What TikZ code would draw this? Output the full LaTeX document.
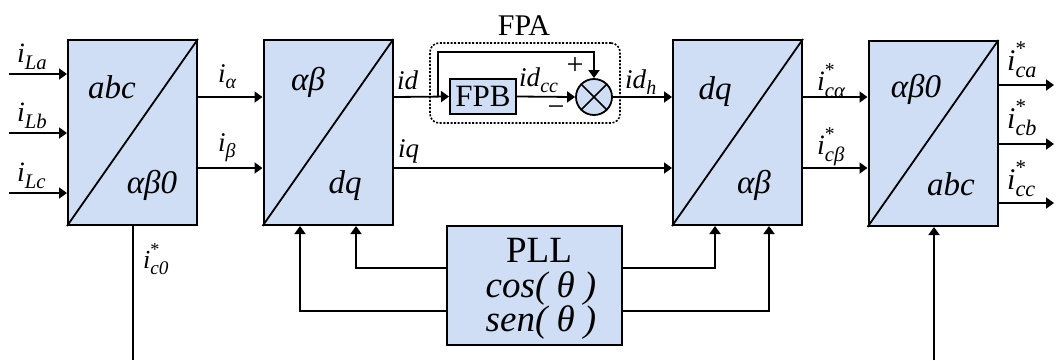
\documentclass[tikz,border=0pt]{standalone}
\usepackage{fontspec}
\setmainfont{Liberation Serif}
\usepackage{graphicx}
\usetikzlibrary{arrows.meta}
\definecolor{blkfill}{RGB}{207,221,245}
\newcommand\fs[1]{\fontsize{#1}{#1}\selectfont}
\newcommand\sbs[1]{\raisebox{-0.25em}{\scalebox{0.74}{\textit{#1}}}}
\newcommand\isub[1]{\textit{i}\sbs{#1}}
\newcommand\istar[1]{\textit{i}\rlap{\raisebox{0.5em}{\scalebox{0.7}{*}}}\sbs{#1}}
\begin{document}
\begin{tikzpicture}[x=1pt,y=-1pt,
  blk/.style={draw, line width=2pt, fill=blkfill, minimum width=129pt, minimum height=185pt, inner sep=0pt},
  ln/.style={line width=1.8pt},
  arr/.style={line width=1.8pt, -{Triangle[length=8pt,width=11pt]}},
  lbl/.style={inner sep=0pt, anchor=base west, font=\fs{28}},
  btxt/.style={inner sep=0pt, anchor=base, font=\fs{33}\itshape},
  ptxt/.style={inner sep=0pt, anchor=base, font=\fs{37}}]
\useasboundingbox (0,0) rectangle (1056,360);
% blocks
\node[blk] (b1) at (132.5,132.5) {};
\node[blk] (b2) at (328,132.5) {};
\node[blk] (b3) at (737.5,132.5) {};
\node[blk] (b4) at (933,133.5) {};
\foreach \b in {b1,b2,b3,b4} \draw[ln] (\b.south west) -- (\b.north east);
% block texts
\node[btxt] (t1a) at (112,98) {abc};
\node[btxt] (t1b) at (152,193) {αβ0};
\node[btxt] (t2a) at (308,90) {αβ};
\node[btxt] (t2b) at (345,193) {dq};
\node[btxt] (t3a) at (715,99) {dq};
\node[btxt] (t3b) at (754,193) {αβ};
\node[btxt] (t4a) at (916,97) {αβ0};
\node[btxt] (t4b) at (951,195) {abc};
% inputs
\coordinate (inA) at (9,74);
\coordinate (inB) at (9,133);
\coordinate (inC) at (9,193);
\draw[arr] (inA) -- (inA -| b1.west);
\draw[arr] (inB) -- (inB -| b1.west);
\draw[arr] (inC) -- (inC -| b1.west);
\node[lbl] (lLa) at (17,62) {\isub{La}};
\node[lbl] (lLb) at (17,121) {\isub{Lb}};
\node[lbl] (lLc) at (17,181) {\isub{Lc}};
% b1 -> b2
\coordinate (r1) at (0,97);
\coordinate (r2) at (0,168);
\draw[arr] (b1.east |- r1) -- (b2.west |- r1);
\draw[arr] (b1.east |- r2) -- (b2.west |- r2);
\node[lbl, font=\fs{27}] (lal) at (218,82) {\isub{α}};
\node[lbl, font=\fs{27}] (lbe) at (218,151) {\isub{β}};
% i*c0 output
\coordinate (bot) at (133,360);
\draw[ln] (b1.south -| bot) -- (bot);
\node[lbl, font=\fs{26}] (lc0) at (143,268) {\istar{c0}};
% FPA
\node[draw, line width=1.6pt, dash pattern=on 2pt off 1.6pt, rounded corners=9pt, minimum width=190pt, minimum height=80pt] (fpa) at (525,83) {};
\node[inner sep=0pt, anchor=base, font=\fs{30}] (fpat) at (524,35) {FPA};
\node[draw, line width=2pt, fill=blkfill, minimum width=66pt, minimum height=35pt, inner sep=0pt, font=\fs{31}] (fpb) at (483,96.5) {FPB};
\node[draw, circle, line width=1.8pt, fill=blkfill, minimum size=36pt, inner sep=0pt] (sum) at (594,97) {};
\draw[line width=1.6pt] (sum.north west) -- (sum.south east) (sum.north east) -- (sum.south west);
\coordinate (br) at (438,97);
\coordinate (topr) at (0,52);
\draw[arr] (b2.east |- r1) -- (fpb.west);
\draw[arr] (br) -- (br |- topr) -| (sum.north);
\draw[arr] (fpb.east) -- (sum.west);
\draw[arr] (sum.east) -- (b3.west |- sum.east);
\node[lbl, font=\fs{27}] (lid) at (397,89) {\textit{id}};
\node[lbl, font=\fs{27}] (lidcc) at (519,86) {\textit{id}\sbs{cc}};
\node[lbl, font=\fs{27}] (lidh) at (625,88) {\textit{id}\sbs{h}};
\node[inner sep=0pt, font=\fs{30}] (plus) at (575,66) {+};
\node[inner sep=0pt, font=\fs{30}] (minus) at (556,111) {−};
% iq
\draw[arr] (b2.east |- r2) -- (b3.west |- r2);
\node[lbl, font=\fs{27}] (liq) at (398,157) {\textit{iq}};
% b3 -> b4
\draw[arr] (b3.east |- r1) -- (b4.west |- r1);
\draw[arr] (b3.east |- r2) -- (b4.west |- r2);
\node[lbl] (lca) at (817,90) {\istar{cα}};
\node[lbl] (lcb) at (817,154) {\istar{cβ}};
% outputs
\coordinate (oA) at (1054,85);
\coordinate (oB) at (1054,144);
\coordinate (oC) at (1054,203);
\draw[arr] (b4.east |- oA) -- (oA);
\draw[arr] (b4.east |- oB) -- (oB);
\draw[arr] (b4.east |- oC) -- (oC);
\node[lbl, font=\fs{30}] (lo1) at (1007,70) {\istar{ca}};
\node[lbl, font=\fs{30}] (lo2) at (1007,128) {\istar{cb}};
\node[lbl, font=\fs{30}] (lo3) at (1007,189) {\istar{cc}};
% b4 bottom input
\coordinate (b4in) at (934,360);
\draw[arr] (b4in) -- (b4.south -| b4in);
% PLL
\node[draw, line width=2pt, fill=blkfill, minimum width=175pt, minimum height=119pt, inner sep=0pt] (pll) at (534.5,285.5) {};
\node[ptxt] (p1) at (539,262) {PLL};
\node[ptxt] (p2) at (541,297) {\textit{cos( θ )}};
\node[ptxt] (p3) at (541,331) {\textit{sen( θ )}};
\coordinate (y1) at (0,268);
\coordinate (y2) at (0,311);
\coordinate (x300) at (300,0);
\coordinate (x356) at (356,0);
\coordinate (x715) at (715,0);
\coordinate (x769) at (769,0);
\draw[arr] (pll.west |- y1) -| (b2.south -| x356);
\draw[arr] (pll.west |- y2) -| (b2.south -| x300);
\draw[arr] (pll.east |- y1) -| (b3.south -| x715);
\draw[arr] (pll.east |- y2) -| (b3.south -| x769);
\end{tikzpicture}
\end{document}
